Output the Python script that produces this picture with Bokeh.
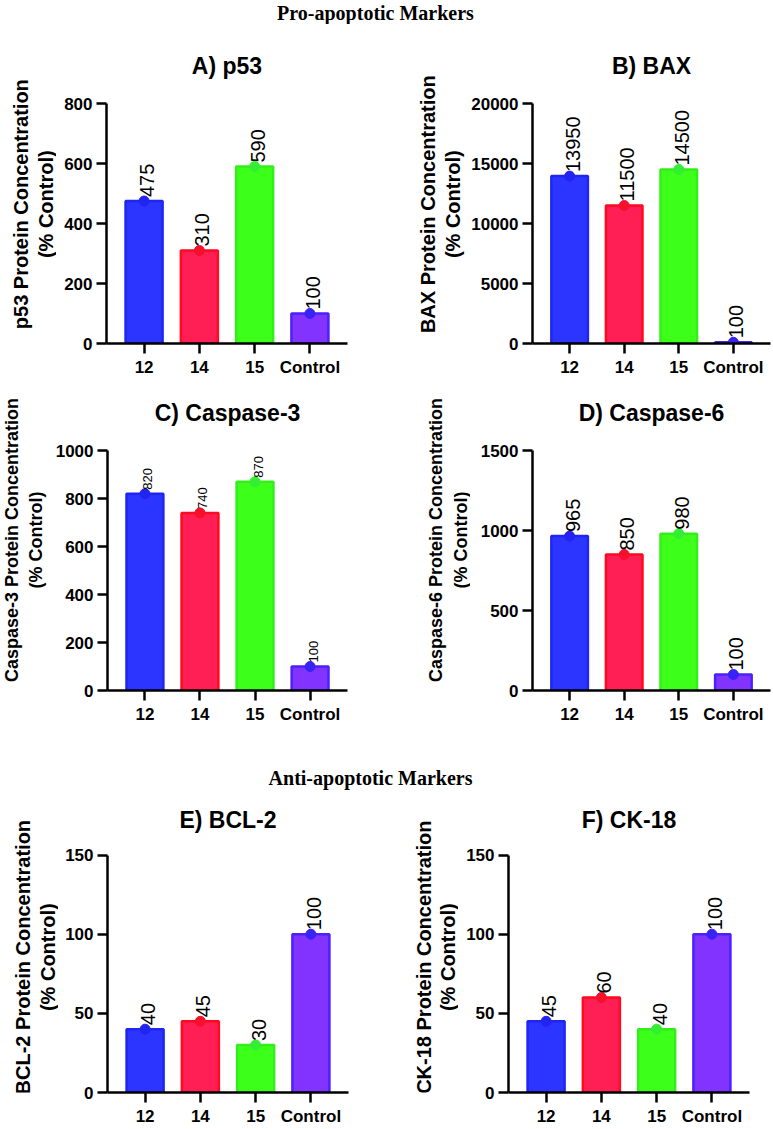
import math
from bokeh.plotting import figure
from bokeh.models import ColumnDataSource, Range1d, FixedTicker
from bokeh.layouts import column, row
from bokeh.embed import file_html
from bokeh.resources import INLINE
from bokeh.core.properties import value

# ---------------- data ----------------
categories = ["12", "14", "15", "Control"]

p53_values = [475, 310, 590, 100]
bax_values = [13950, 11500, 14500, 100]
casp3_values = [820, 740, 870, 100]
casp6_values = [965, 850, 980, 100]
bcl2_values = [40, 45, 30, 100]
ck18_values = [45, 60, 40, 100]

p53_ticks = [0, 200, 400, 600, 800]
bax_ticks = [0, 5000, 10000, 15000, 20000]
casp3_ticks = [0, 200, 400, 600, 800, 1000]
casp6_ticks = [0, 500, 1000, 1500]
bcl2_ticks = [0, 50, 100, 150]
ck18_ticks = [0, 50, 100, 150]

titles = ["A) p53", "B) BAX", "C) Caspase-3", "D) Caspase-6", "E) BCL-2", "F) CK-18"]
ylabels = [
    ["p53 Protein Concentration", "(% Control)"],
    ["BAX Protein Concentration", "(% Control)"],
    ["Caspase-3 Protein Concentration", "(% Control)"],
    ["Caspase-6 Protein Concentration", "(% Control)"],
    ["BCL-2 Protein Concentration", "(% Control)"],
    ["CK-18 Protein Concentration", "(% Control)"],
]
heading_pro = "Pro-apoptotic Markers"
heading_anti = "Anti-apoptotic Markers"

# ---------------- style ----------------
fill_colors = ["#2B35FF", "#FF1F55", "#3CFF1A", "#8233FF"]
line_colors = ["#2026F2", "#FF0A1E", "#33EE1A", "#4A22FF"]
dot_colors = ["#2424F0", "#F5102E", "#33EE33", "#3A22F2"]

SANS = "Liberation Sans"
SERIF = "Liberation Serif"
TOTAL_W = 773

xpos = list(range(len(categories)))


def blank(width, height):
    f = figure(x_range=Range1d(0, width), y_range=Range1d(0, height),
               width=width, height=height, min_border=0,
               x_axis_location=None, y_axis_location=None,
               toolbar_location=None, output_backend="svg")
    f.outline_line_color = None
    f.xgrid.visible = False
    f.ygrid.visible = False
    return f


def ylabel_fig(lines, width, height, center_from_top, line_x, font_size="20px"):
    f = blank(width, height)
    f.text(x=line_x, y=[height - center_from_top] * len(lines), text=lines,
           angle=math.pi / 2, text_align="center", text_baseline="middle",
           text_font=value(SANS), text_font_style="bold", text_font_size=font_size,
           text_color="black")
    return f


def panel(title, values, ticks, width, bl, br, bt, extra, axis_h, bb,
          title_gap=38, label_size="20px"):
    src = ColumnDataSource(dict(
        x=xpos, top=values, text=[str(v) for v in values],
        fill=fill_colors, line=line_colors, dot=dot_colors,
    ))
    ymax = ticks[-1]
    height = bt + extra + axis_h + bb
    p = figure(
        x_range=Range1d(-0.68, len(categories) - 1 + 0.68),
        y_range=Range1d(0, ymax * (axis_h + extra) / axis_h),
        width=width, height=height,
        min_border_left=bl, min_border_right=br,
        min_border_top=bt, min_border_bottom=bb,
        toolbar_location=None, output_backend="svg",
    )
    p.outline_line_color = None
    p.xgrid.visible = False
    p.ygrid.visible = False
    p.background_fill_color = "white"
    p.border_fill_color = "white"

    p.vbar(x="x", top="top", width=0.67, bottom=0, source=src,
           fill_color="fill", line_color="line", line_width=2.5)
    p.scatter(x="x", y="top", size=10, fill_color="dot", line_color="dot", source=src)
    p.text(x="x", y="top", text="text", source=src, angle=math.pi / 2,
           text_align="left", text_baseline="middle", x_offset=3, y_offset=-4,
           text_font=value(SANS), text_font_size=label_size, text_color="black")

    p.text(x=[(len(categories) - 1) / 2], y=[ymax * (1 + title_gap / axis_h)], text=[title],
           text_align="center", text_baseline="middle",
           text_font=value(SANS), text_font_style="bold", text_font_size="23px",
           text_color="black")

    for ax in (p.xaxis[0], p.yaxis[0]):
        ax.axis_line_width = 2.5
        ax.axis_line_color = "black"
        ax.major_tick_line_width = 2.5
        ax.major_tick_line_color = "black"
        ax.major_tick_in = 0
        ax.major_tick_out = 10
        ax.minor_tick_line_color = None
        ax.major_label_text_font = SANS
        ax.major_label_text_font_style = "bold"
        ax.major_label_text_font_size = "17px"
        ax.major_label_text_color = "black"
        ax.major_label_standoff = 4

    p.xaxis.ticker = FixedTicker(ticks=xpos)
    p.xaxis.major_label_overrides = {i: c for i, c in zip(xpos, categories)}
    p.yaxis.ticker = FixedTicker(ticks=ticks)
    p.yaxis.bounds = (0, ymax)
    return p


def cell(i, values, ticks, total_w, lab_w, line_x, bl, br, bt, extra, axis_h, bb,
         label_shift=0, ylabel_size="20px", **kw):
    p = panel(titles[i], values, ticks, total_w - lab_w, bl, br, bt, extra, axis_h, bb, **kw)
    lab = ylabel_fig(ylabels[i], lab_w, p.height,
                     bt + extra + axis_h / 2 + label_shift, line_x, ylabel_size)
    return [lab, p]


def heading(text, height, center_from_top, cx):
    h = blank(TOTAL_W, height)
    h.text(x=[cx], y=[height - center_from_top], text=[text],
           text_align="center", text_baseline="middle",
           text_font=value(SERIF), text_font_style="bold",
           text_font_size="20px", text_color="black")
    return h


LW, RW = 400, 373

# row 1: figure top 24, axis top 103, axis bottom 343
row1 = row(*cell(0, p53_values, p53_ticks, LW, 56, [20, 45], 50, 53, 2, 77, 240, 36),
           *cell(1, bax_values, bax_ticks, RW, 66, [27, 52], 66, 3, 2, 77, 240, 36))
# row 2: figure top 379, axis top 450, axis bottom 690
row2 = row(*cell(2, casp3_values, casp3_ticks, LW, 52, [11, 35], 54, 53, 4, 67, 240, 40,
                 label_shift=-12, ylabel_size="18px", label_size="13px"),
           *cell(3, casp6_values, casp6_ticks, RW, 70, [35, 60], 62, 3, 4, 67, 240, 40,
                 label_shift=-12, ylabel_size="18px"))
# row 3: figure top 790, axis top 855, axis bottom 1094
row3 = row(*cell(4, bcl2_values, bcl2_ticks, LW, 58, [22, 47], 49, 52, 4, 61, 239, 34,
                 title_gap=35),
           *cell(5, ck18_values, ck18_ticks, RW, 58, [23, 47], 50, 24, 4, 61, 239, 34,
                 title_gap=35))

h1 = heading(heading_pro, 24, 12, 375)
h2 = heading(heading_anti, 60, 47, 370)

layout = column(h1, row1, row2, h2, row3)

open("out.html", "w").write(file_html(layout, INLINE))
